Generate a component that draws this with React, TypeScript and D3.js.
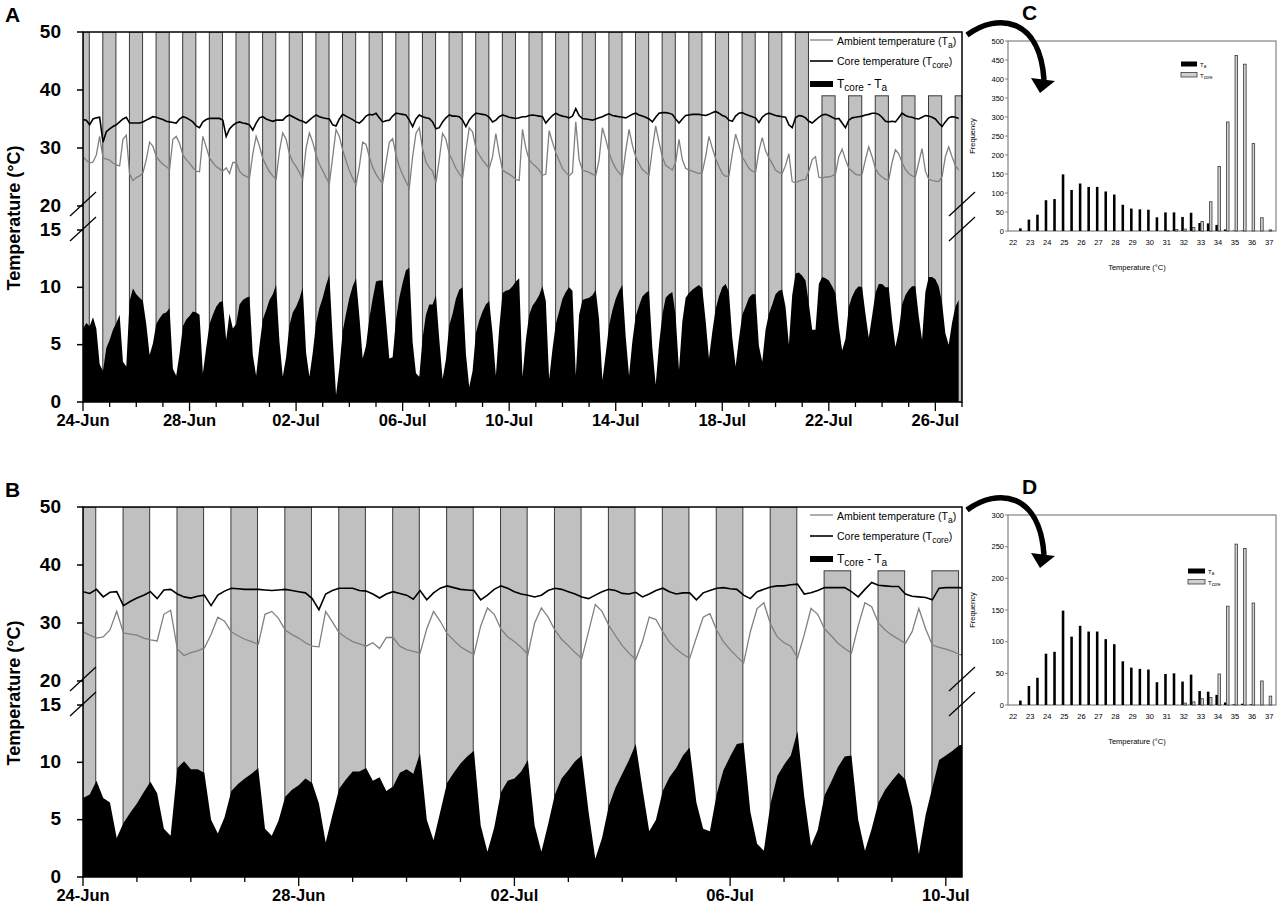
import React from "react";
import * as d3 from "d3";

// ---------- DATA ----------
const START = Date.UTC(2016, 5, 24);
const STEP_HOURS = 3;
const lightsOffHour = 17.83;
const lightsOnHour = 5.67;
const legendClearTemp = 39;

// Ambient temperature (°C), every 3 h from 24-Jun 00:00 (shared by both animals)
const ambientTemp = [
  28.5, 27.9, 27.4, 27.6, 28.8, 32.0, 28.3, 28.1,
  27.9, 27.4, 27.1, 26.9, 31.5, 32.2, 25.5, 24.4,
  24.9, 25.2, 25.7, 28.0, 31.0, 30.3, 28.5, 27.8,
  27.2, 26.8, 26.3, 31.5, 32.0, 30.8, 28.8, 28.0,
  27.4, 26.6, 26.0, 25.9, 32.0, 30.2, 28.3, 27.5,
  26.8, 26.4, 26.0, 26.6, 25.6, 27.5, 27.5, 26.0,
  25.4, 25.1, 24.8, 29.0, 32.0, 30.3, 28.2, 27.0,
  25.9, 25.2, 24.6, 29.5, 32.6, 31.5, 29.0, 27.6,
  26.8, 25.8, 24.6, 30.0, 32.6, 31.0, 28.8, 27.2,
  26.1, 24.9, 23.9, 28.5, 33.2, 32.0, 29.6, 27.8,
  26.1, 24.8, 23.7, 26.8, 31.0, 30.6, 28.5, 26.7,
  25.5, 24.6, 23.9, 27.5, 31.0, 31.6, 28.8, 26.8,
  25.4, 24.2, 23.1, 28.5, 32.5, 33.5, 29.8, 27.6,
  26.6, 26.0, 24.0, 28.0, 32.5, 31.5, 29.0, 27.8,
  26.5, 25.6, 24.8, 29.5, 33.5, 32.8, 30.0, 28.8,
  27.9, 27.2, 26.5, 28.5, 32.5, 29.0, 26.2, 25.8,
  25.5, 25.1, 24.6, 24.4, 33.2, 30.0, 28.0, 27.3,
  26.8, 26.2, 25.3, 25.5, 33.0, 31.0, 29.2, 27.8,
  26.5, 25.8, 25.2, 25.8, 34.5, 28.0, 26.2, 26.0,
  25.8, 25.5, 25.2, 28.0, 33.5, 31.5, 29.2, 27.6,
  26.5, 25.7, 25.1, 29.5, 33.2, 30.5, 28.5, 27.3,
  26.3, 25.8, 25.3, 29.8, 33.8, 31.0, 28.5, 27.0,
  26.6, 26.2, 27.5, 31.5, 28.0, 26.5, 26.2, 26.0,
  25.8, 25.6, 25.8, 28.5, 32.0, 30.0, 28.2, 26.8,
  25.6, 25.1, 25.2, 29.0, 32.4, 30.5, 28.5, 27.5,
  26.5, 26.0, 25.8, 29.5, 31.8, 29.5, 28.3, 27.3,
  26.2, 25.8, 25.6, 27.0, 29.0, 24.2, 24.0, 24.3,
  24.5, 24.6, 26.0, 28.0, 28.5, 25.0, 24.8, 25.0,
  25.0, 25.2, 25.5, 28.5, 29.8, 28.0, 26.5, 26.0,
  25.5, 25.3, 25.5, 28.0, 30.2, 28.5, 26.5, 25.5,
  25.0, 24.6, 24.5, 27.5, 29.7, 29.0, 27.5, 26.3,
  25.6, 25.2, 25.0, 27.5, 29.9, 26.0, 24.6, 24.4,
  24.3, 24.2, 25.0, 28.5, 30.2, 28.5, 27.0, 26.2,
];

// Core temperature (°C), animal A, every 3 h
const coreTempA = [
  34.9, 34.8, 34.0, 35.0, 35.2, 35.3, 31.0, 32.8,
  33.3, 33.7, 34.0, 34.5, 35.0, 35.3, 34.3, 34.3,
  34.3, 34.3, 34.5, 34.8, 35.1, 35.4, 35.3, 35.1,
  34.9, 34.6, 34.5, 34.4, 34.3, 35.0, 35.4, 35.2,
  34.9, 34.5, 33.8, 33.5, 34.5, 34.9, 35.1, 35.1,
  35.1, 35.1, 34.8, 32.0, 33.3, 33.9, 34.3, 34.5,
  34.3, 34.2, 34.0, 33.1, 34.3, 35.2, 35.4, 35.0,
  34.8, 34.6, 34.8, 34.8, 34.8, 35.4, 35.7, 35.4,
  35.1, 34.8, 34.6, 34.3, 34.8, 35.3, 35.7, 35.4,
  35.2, 35.1, 35.0, 34.0, 33.8, 35.0, 35.8, 35.5,
  35.2, 34.9, 34.5, 34.3, 34.8, 35.5, 35.8, 35.7,
  36.0, 35.2, 34.5, 34.7, 34.8, 35.5, 36.0, 35.9,
  35.8, 35.7, 34.8, 33.7, 35.0, 35.7, 35.4, 35.2,
  35.1, 34.5, 33.3, 33.5, 34.5, 35.2, 35.7, 35.5,
  35.5, 35.4, 34.8, 33.7, 34.8, 35.5, 36.0, 35.9,
  35.8, 35.7, 35.3, 34.5, 34.8, 35.4, 35.7, 35.5,
  35.3, 35.2, 35.1, 35.2, 35.4, 35.4, 35.6, 35.7,
  35.6, 35.5, 35.4, 34.3, 35.0, 35.6, 36.0, 35.7,
  35.5, 35.4, 35.2, 35.5, 36.8, 35.6, 35.1, 35.0,
  34.9, 34.8, 35.0, 35.2, 35.4, 35.7, 35.9, 35.6,
  35.5, 35.4, 35.3, 35.2, 35.5, 35.8, 36.0, 35.7,
  35.5, 35.3, 35.0, 34.5, 35.3, 36.0, 36.1, 36.1,
  36.0, 35.8, 35.0, 34.3, 35.0, 35.6, 35.7, 35.8,
  35.8, 35.8, 35.7, 35.6, 35.8, 36.1, 36.3, 36.0,
  35.6, 35.4, 34.8, 34.6, 35.5, 36.0, 36.1, 35.8,
  35.6, 35.4, 35.2, 34.4, 35.3, 35.8, 36.0, 35.8,
  35.6, 35.5, 35.4, 35.3, 34.0, 33.5, 35.2, 35.6,
  35.5, 35.2, 34.6, 34.3, 34.8, 35.3, 35.7, 35.8,
  35.6, 35.3, 35.0, 35.1, 34.3, 33.5, 34.8, 35.2,
  35.3, 35.4, 35.5, 35.7, 35.8, 36.0, 36.0, 35.8,
  35.3, 34.6, 34.5, 34.6, 34.5, 35.2, 36.0, 35.6,
  35.4, 35.3, 35.1, 35.0, 35.3, 35.6, 35.5, 35.3,
  35.0, 34.3, 33.7, 34.5, 35.2, 35.4, 35.3, 35.1,
];

// Core temperature (°C), animal B, every 3 h
const coreTempB = [
  35.4, 35.1, 35.8, 34.5, 35.3, 35.4, 33.0, 33.7,
  34.3, 34.8, 35.4, 34.2, 35.7, 35.8, 35.0, 34.5,
  34.3, 34.6, 34.8, 33.0, 34.8, 35.5, 36.0, 35.9,
  35.8, 35.8, 35.8, 35.7, 35.6, 35.7, 35.8, 35.6,
  35.4, 35.2, 34.2, 32.3, 35.0, 35.6, 36.0, 36.0,
  36.0, 35.6, 35.5, 35.0, 34.3, 35.0, 35.4, 35.1,
  34.8, 34.1, 35.6, 34.0, 35.2, 36.0, 36.4, 36.1,
  35.8, 35.7, 35.6, 34.0, 34.8, 35.8, 36.4, 36.0,
  35.4, 35.0, 34.8, 34.5, 34.8, 35.6, 36.0, 35.8,
  35.4, 35.0, 34.5, 34.2, 34.8, 35.4, 35.8, 35.6,
  35.1, 35.0, 35.3, 34.5, 35.0, 35.6, 36.0, 35.4,
  35.0, 35.2, 35.2, 34.0, 35.2, 35.6, 36.0, 36.1,
  35.9, 35.8, 34.8, 34.2, 35.4, 35.8, 36.2, 36.4,
  36.4, 36.6, 36.7, 35.0, 35.2, 35.6, 36.1, 36.1,
  36.1, 36.1, 35.4, 34.5, 35.8, 37.0, 36.5, 36.4,
  36.3, 36.3, 35.0, 34.6, 34.5, 34.4, 34.0, 36.0,
  36.1, 36.1, 36.1, 36.0,
];

// Histograms (frequency per 0.5 °C bin)
const histBins = [22.5, 23, 23.5, 24, 24.5, 25, 25.5, 26, 26.5, 27, 27.5, 28, 28.5, 29, 29.5, 30,
  30.5, 31, 31.5, 32, 32.5, 33, 33.5, 34, 34.5, 35, 35.5, 36, 36.5, 37];
const histTaC = [7, 30, 43, 81, 84, 149, 108, 125, 116, 116, 104, 96, 69, 59, 57, 56,
  36, 49, 49, 37, 48, 21, 20, 16, 4, 1, 1, 0, 0, 0];
const histTcoreC = [0, 0, 0, 0, 0, 0, 0, 0, 0, 0, 0, 0, 0, 0, 0, 0,
  0, 1, 4, 5, 9, 25, 77, 170, 287, 462, 439, 230, 35, 3];
const histTaD = [7, 30, 43, 81, 84, 149, 108, 125, 116, 116, 104, 96, 69, 59, 57, 56,
  36, 49, 50, 37, 48, 22, 21, 16, 4, 1, 2, 1, 0, 0];
const histTcoreD = [0, 0, 0, 0, 0, 0, 0, 0, 0, 0, 0, 0, 0, 0, 0, 0,
  0, 0, 0, 3, 5, 10, 12, 49, 156, 254, 247, 161, 38, 14];
const histXTicks = [22, 23, 24, 25, 26, 27, 28, 29, 30, 31, 32, 33, 34, 35, 36, 37];

const yTicks = [0, 5, 10, 15, 20, 30, 40, 50];

// ---------- LAYOUT ----------
const FONT = "'Liberation Sans', Arial, Helvetica, sans-serif";
const PLOT_LEFT = 83;
const PLOT_RIGHT = 962;
const DAY_MS = 86400000;

type SeriesProps = { top: number; endDay: number; core: number[]; letter: string; id: string };

function SeriesPanel({ top, endDay, core, letter, id }: SeriesProps) {
  const bottom = top + 370;
  const y = d3.scaleLinear().domain([0, 15, 20, 50]).range([bottom, top + 198, top + 174, top]);
  const start = new Date(START);
  const end = new Date(START + endDay * DAY_MS);
  const x = d3.scaleUtc().domain([start, end]).range([PLOT_LEFT, PLOT_RIGHT]);

  const pts = core.map((c, i) => ({
    t: d3.utcHour.offset(start, i * STEP_HOURS),
    ta: ambientTemp[i],
    core: c,
  }));

  const nights: { s: Date; e: Date }[] = [];
  for (let d = -1; d <= Math.ceil(endDay); d++) {
    const s = new Date(START + (d + lightsOffHour / 24) * DAY_MS);
    const e = new Date(START + (d + 1 + lightsOnHour / 24) * DAY_MS);
    const cs = s < start ? start : s;
    const ce = e > end ? end : e;
    if (ce > cs) nights.push({ s: cs, e: ce });
  }

  const lineTa = d3.line<any>().x((d) => x(d.t)).y((d) => y(d.ta));
  const lineCore = d3.line<any>().x((d) => x(d.t)).y((d) => y(d.core));
  const areaDiff = d3
    .area<any>()
    .x((d) => x(d.t))
    .y0(y(0))
    .y1((d) => y(d.core - d.ta));

  const days = d3.utcDay.range(start, new Date(+end + 1));
  const fmt = d3.utcFormat("%d-%b");
  const clip = `clip-${id}`;

  const breakYs = [y(20) - 2, y(15) - 1];
  const lg = top;

  return (
    <g>
      <defs>
        <clipPath id={clip}>
          <rect x={PLOT_LEFT} y={top} width={PLOT_RIGHT - PLOT_LEFT} height={bottom - top} />
        </clipPath>
      </defs>
      <g clipPath={`url(#${clip})`}>
        {nights.map((n, i) => {
          const x0 = x(n.s);
          const topY = x0 > 805 ? y(legendClearTemp) : y(50);
          return (
            <rect key={i} x={x0} y={topY} width={x(n.e) - x0} height={bottom - topY}
              fill="#c0c0c0" stroke="#3a3a3a" strokeWidth={1} />
          );
        })}
        <path d={areaDiff(pts) || ""} fill="#000" />
        <path d={lineTa(pts) || ""} fill="none" stroke="#808080" strokeWidth={1.3} />
        <path d={lineCore(pts) || ""} fill="none" stroke="#000" strokeWidth={1.6} />
      </g>
      <rect x={PLOT_LEFT} y={top} width={PLOT_RIGHT - PLOT_LEFT} height={bottom - top}
        fill="none" stroke="#000" strokeWidth={1.5} />
      {yTicks.map((v) => (
        <g key={v}>
          <line x1={PLOT_LEFT - 6} x2={PLOT_LEFT} y1={y(v)} y2={y(v)} stroke="#000" strokeWidth={1.5} />
          <text x={PLOT_LEFT - 22} y={y(v) - 1} textAnchor="end" dominantBaseline="central"
            fontFamily={FONT} fontWeight="bold" fontSize={19}>{v}</text>
        </g>
      ))}
      {breakYs.map((cy, i) => (
        <g key={i}>
          <line x1={PLOT_LEFT - 13} y1={cy + 12} x2={PLOT_LEFT + 13} y2={cy - 12} stroke="#000" strokeWidth={1.2} />
          <line x1={PLOT_RIGHT - 13} y1={cy + 12} x2={PLOT_RIGHT + 13} y2={cy - 12} stroke="#000" strokeWidth={1.2} />
        </g>
      ))}
      <text transform={`translate(20,${(top + bottom) / 2 + 1}) rotate(-90)`} textAnchor="middle"
        fontFamily={FONT} fontWeight="bold" fontSize={18}>Temperature (°C)</text>
      {days.map((d, i) => {
        const major = i % 4 === 0;
        return (
          <g key={i}>
            <line x1={x(d)} x2={x(d)} y1={bottom} y2={bottom + (major ? 9 : 5)} stroke="#000" strokeWidth={1.3} />
            {major && (
              <text x={x(d)} y={bottom + 24} textAnchor="middle" fontFamily={FONT} fontWeight="bold" fontSize={16.5}>
                {fmt(d)}
              </text>
            )}
          </g>
        );
      })}
      <line x1={810} x2={833} y1={lg + 8} y2={lg + 8} stroke="#808080" strokeWidth={1.3} />
      <text x={837} y={lg + 12.5} fontFamily={FONT} fontSize={10.5}>
        Ambient temperature (T<tspan fontSize={8.5} dy={3}>a</tspan><tspan dy={-3}>)</tspan>
      </text>
      <line x1={810} x2={833} y1={lg + 29} y2={lg + 29} stroke="#000" strokeWidth={1.6} />
      <text x={837} y={lg + 33} fontFamily={FONT} fontSize={10.5}>
        Core temperature (T<tspan fontSize={8.5} dy={3}>core</tspan><tspan dy={-3}>)</tspan>
      </text>
      <rect x={810} y={lg + 49} width={23} height={6} fill="#000" />
      <text x={837} y={lg + 56} fontFamily={FONT} fontSize={12}>
        T<tspan fontSize={10} dy={3}>core</tspan><tspan dy={-3}> - T</tspan><tspan fontSize={10} dy={3}>a</tspan>
      </text>
      <text x={5} y={top - 10} fontFamily={FONT} fontWeight="bold" fontSize={21}>{letter}</text>
    </g>
  );
}

type HistProps = {
  top: number; bottom: number; yMax: number; ta: number[]; tcore: number[]; letter: string;
  legendX: number; legendY: number; legendW: number;
};

function HistPanel({ top, bottom, yMax, ta, tcore, letter, legendX, legendY, legendW }: HistProps) {
  const left = 1008;
  const right = 1276;
  const x = d3.scaleLinear().domain([21.7, 37.4]).range([left, right]);
  const y = d3.scaleLinear().domain([0, yMax]).range([bottom, top]);
  const bw = x(21.85) - x(21.7);
  const ticks = d3.range(0, yMax + 1, 50);
  const small = 7.5;
  return (
    <g>
      <rect x={left} y={top} width={right - left} height={bottom - top} fill="none" stroke="#6a6a6a" strokeWidth={1} />
      {histBins.map((b, i) => (
        <g key={b}>
          {ta[i] > 0 && <rect x={x(b) - bw} y={y(ta[i])} width={bw} height={bottom - y(ta[i])} fill="#000" />}
          {tcore[i] > 0 && (
            <rect x={x(b)} y={y(tcore[i])} width={bw} height={bottom - y(tcore[i])}
              fill="#cfcfcf" stroke="#3a3a3a" strokeWidth={0.8} />
          )}
        </g>
      ))}
      {ticks.map((v) => (
        <g key={v}>
          <line x1={left - 3} x2={left} y1={y(v)} y2={y(v)} stroke="#6a6a6a" strokeWidth={0.8} />
          <text x={left - 4} y={y(v)} textAnchor="end" dominantBaseline="central" fontFamily={FONT} fontSize={small}>{v}</text>
        </g>
      ))}
      {histXTicks.map((v) => (
        <text key={v} x={x(v)} y={bottom + 14} textAnchor="middle" fontFamily={FONT} fontSize={small}>{v}</text>
      ))}
      <text transform={`translate(${975},${(top + bottom) / 2}) rotate(-90)`} textAnchor="middle"
        fontFamily={FONT} fontSize={small}>Frequency</text>
      <text x={1137} y={bottom + 39} textAnchor="middle" fontFamily={FONT} fontSize={small}>Temperature (°C)</text>
      <rect x={legendX} y={legendY} width={legendW} height={5} fill="#000" />
      <text x={legendX + legendW + 3} y={legendY + 5} fontFamily={FONT} fontSize={6}>
        T<tspan fontSize={4.5} dy={1.5}>a</tspan>
      </text>
      <rect x={legendX} y={legendY + 11} width={legendW} height={4.5} fill="#cfcfcf" stroke="#3a3a3a" strokeWidth={0.8} />
      <text x={legendX + legendW + 3} y={legendY + 16} fontFamily={FONT} fontSize={6}>
        T<tspan fontSize={4.5} dy={1.5}>core</tspan>
      </text>
      <text x={1022} y={top - 21} fontFamily={FONT} fontWeight="bold" fontSize={21}>{letter}</text>
    </g>
  );
}

function CurvedArrow({ dy }: { dy: number }) {
  return (
    <g transform={`translate(0,${dy})`}>
      <path d="M967,35 C998,12 1040,18 1044,80" fill="none" stroke="#000" strokeWidth={5.5} />
      <path d="M1031,78 L1055,81 L1040,93 Z" fill="#000" />
    </g>
  );
}

export default function App() {
  return (
    <svg width={1284} height={916} viewBox="0 0 1284 916"
      style={{ position: "absolute", left: 0, top: 0, background: "#fff" }}>
      <rect x={0} y={0} width={1284} height={916} fill="#fff" />
      <SeriesPanel top={32} endDay={33} core={coreTempA} letter="A" id="a" />
      <SeriesPanel top={507} endDay={16.3} core={coreTempB} letter="B" id="b" />
      <HistPanel top={41} bottom={231} yMax={500} ta={histTaC} tcore={histTcoreC} letter="C"
        legendX={1181} legendY={61.5} legendW={16} />
      <HistPanel top={515} bottom={705} yMax={300} ta={histTaD} tcore={histTcoreD} letter="D"
        legendX={1188} legendY={568.5} legendW={17} />
      <CurvedArrow dy={0} />
      <CurvedArrow dy={475} />
    </svg>
  );
}
